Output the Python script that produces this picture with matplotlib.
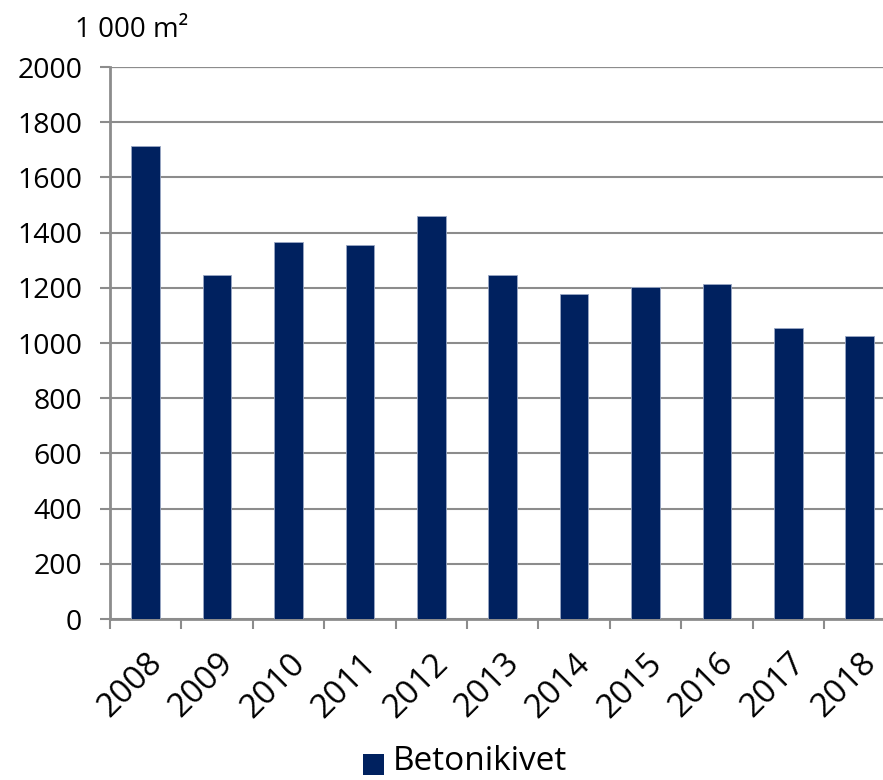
import matplotlib.pyplot as plt
from matplotlib.patches import Rectangle

plt.rcParams['font.family'] = ['Open Sans', 'DejaVu Sans']

# data
years = ['2008', '2009', '2010', '2011', '2012', '2013', '2014', '2015', '2016', '2017', '2018']
values = [1714, 1246, 1366, 1355, 1460, 1246, 1178, 1203, 1214, 1054, 1025]
series_name = 'Betonikivet'
unit_label = '1 000 m²'

bar_color = '#00215F'
grid_color = '#8C8C8C'

fig = plt.figure(figsize=(8.83, 7.8), dpi=100)
# plot area runs a little past the right edge, like the cropped original
ax = fig.add_axes([0.1246, 0.2064, 0.8895, 0.7077])

x = list(range(len(years)))
ax.bar(x, values, width=0.4, color=bar_color, edgecolor='#9AA8C4', linewidth=0.6, zorder=3)

ax.set_xlim(-0.5, len(years) - 0.5)
ax.set_ylim(0, 2000)
ax.set_yticks(range(0, 2001, 200))
ax.yaxis.grid(True, color=grid_color, linewidth=1.5, zorder=0)
ax.axhline(2000, color='#222222', linewidth=1.5, zorder=1)

for side in ['top', 'right']:
    ax.spines[side].set_visible(False)
for side in ['left', 'bottom']:
    ax.spines[side].set_color(grid_color)
    ax.spines[side].set_linewidth(2)

ax.tick_params(axis='y', direction='out', length=7, width=1.5, color=grid_color,
               labelsize=20.5, pad=13)

# category labels at bar centres, tick marks between categories
ax.set_xticks(x)
ax.set_xticklabels(years, rotation=45, ha='right', rotation_mode='anchor', fontsize=24)
ax.tick_params(axis='x', which='major', length=0, pad=20)
ax.set_xticks([i - 0.5 for i in range(len(years) + 1)], minor=True)
ax.tick_params(axis='x', which='minor', direction='out', length=7, width=1.5, color=grid_color)

fig.text(0.085, 0.962, unit_label, fontsize=20, va='center', ha='left')

# legend at the bottom
fig.patches.append(Rectangle((363 / 883, 1 - 775 / 780), 21 / 883, 21 / 780,
                             transform=fig.transFigure, facecolor=bar_color,
                             edgecolor='none'))
fig.text(393 / 883, 1 - 762 / 780, series_name, fontsize=24, va='center', ha='left')

fig.savefig('out.png', dpi=100)
